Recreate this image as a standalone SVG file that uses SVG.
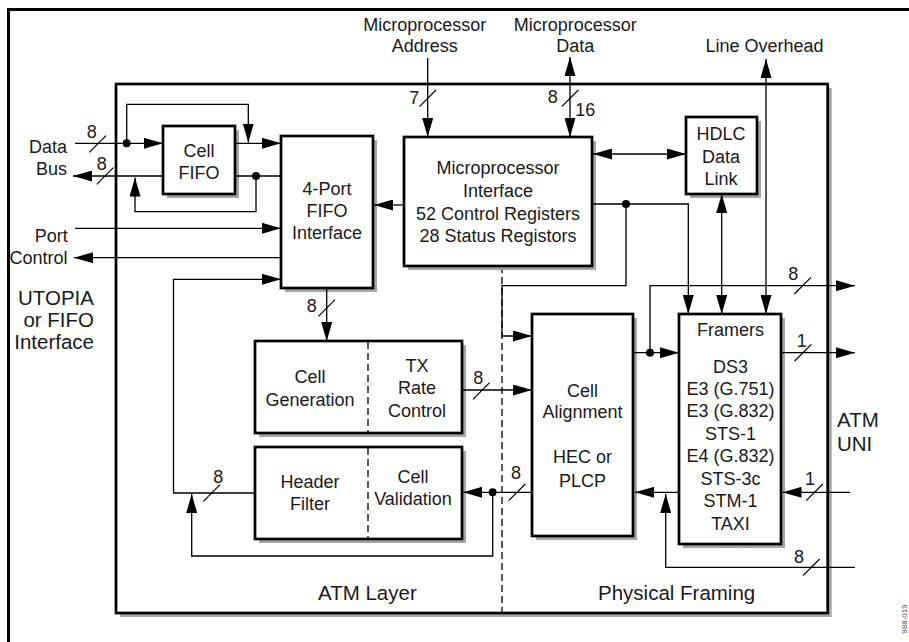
<svg xmlns="http://www.w3.org/2000/svg" width="909" height="642" viewBox="0 0 909 642">
<style>
.box{fill:#fff;stroke:#000;stroke-width:2.7}
.sh{fill:#a6a6a6}
.ln{fill:none;stroke:#000;stroke-width:1.3}
.ar{fill:none;stroke:#000;stroke-width:1.3;marker-end:url(#ah)}
.ar2{fill:none;stroke:#000;stroke-width:1.3;marker-end:url(#ah);marker-start:url(#ah)}
.dash{fill:none;stroke:#000;stroke-width:1.3;stroke-dasharray:7 4}
.sl{stroke:#000;stroke-width:1.2}
text{font-family:"Liberation Sans",Arial,sans-serif;font-size:18px;fill:#1a1a1a}
.c{text-anchor:middle}
.e{text-anchor:end}
.big{font-size:20.5px}
</style>
<defs>
<marker id="ah" markerUnits="userSpaceOnUse" markerWidth="19" markerHeight="11" viewBox="0 0 19 11" refX="19" refY="5.5" orient="auto-start-reverse"><path d="M0,0 L19,5.5 L0,11 z" fill="#000"/></marker>
</defs>
<rect width="909" height="642" fill="#fff"/>
<path d="M7,9.5 H909 M8.5,9 V642" fill="none" stroke="#000" stroke-width="3"/>

<g id="main-box">
<rect class="sh" x="120" y="88" width="711.7" height="529"/>
<rect class="box" x="116" y="84" width="711.7" height="529"/>
<line class="dash" x1="502" y1="266" x2="502" y2="613"/>
</g>

<g id="cell-fifo">
<rect class="sh" x="167" y="130" width="72" height="68"/>
<rect class="box" x="163" y="126" width="72" height="68"/>
<text class="c" x="199" y="156.5">Cell</text>
<text class="c" x="199" y="178.5">FIFO</text>
</g>

<g id="fifo-interface">
<rect class="sh" x="285" y="140" width="92" height="152"/>
<rect class="box" x="281" y="136" width="92" height="152"/>
<text class="c" x="327" y="194.5">4-Port</text>
<text class="c" x="327" y="216.5">FIFO</text>
<text class="c" x="327" y="238.5">Interface</text>
</g>

<g id="micro-interface">
<rect class="sh" x="408" y="141" width="188" height="129"/>
<rect class="box" x="404" y="137" width="188" height="129"/>
<text class="c" x="498" y="173.5">Microprocessor</text>
<text class="c" x="498" y="196.5">Interface</text>
<text class="c" x="498" y="219.5">52 Control Registers</text>
<text class="c" x="498" y="241.5">28 Status Registors</text>
</g>

<g id="hdlc">
<rect class="sh" x="690" y="121" width="71" height="77"/>
<rect class="box" x="686" y="117" width="71" height="77"/>
<text class="c" x="721" y="139.5">HDLC</text>
<text class="c" x="721" y="162.5">Data</text>
<text class="c" x="721" y="184.5">Link</text>
</g>

<g id="framers">
<rect class="sh" x="683" y="318" width="102" height="230"/>
<rect class="box" x="679" y="314" width="102" height="230"/>
<text class="c" x="730.5" y="335.8">Framers</text>
<text class="c" x="730.5" y="372.5">DS3</text>
<text class="c" x="730.5" y="394.8">E3 (G.751)</text>
<text class="c" x="730.5" y="417.2">E3 (G.832)</text>
<text class="c" x="730.5" y="439.8">STS-1</text>
<text class="c" x="730.5" y="462.2">E4 (G.832)</text>
<text class="c" x="730.5" y="484.8">STS-3c</text>
<text class="c" x="730.5" y="507.2">STM-1</text>
<text class="c" x="730.5" y="529.8">TAXI</text>
</g>

<g id="cell-alignment">
<rect class="sh" x="536" y="318" width="101" height="222"/>
<rect class="box" x="532" y="314" width="101" height="222"/>
<text class="c" x="582.5" y="396.5">Cell</text>
<text class="c" x="582.5" y="418.2">Alignment</text>
<text class="c" x="582.5" y="463.2">HEC or</text>
<text class="c" x="582.5" y="486.5">PLCP</text>
</g>

<g id="cell-generation">
<rect class="sh" x="259" y="345" width="207" height="92"/>
<rect class="box" x="255" y="341" width="207" height="92"/>
<line class="dash" x1="368" y1="342" x2="368" y2="432"/>
<text class="c" x="310" y="383.2">Cell</text>
<text class="c" x="310" y="405.5">Generation</text>
<text class="c" x="417" y="371.5">TX</text>
<text class="c" x="417" y="393.5">Rate</text>
<text class="c" x="417" y="416.5">Control</text>
</g>

<g id="header-filter">
<rect class="sh" x="259" y="451" width="207" height="92"/>
<rect class="box" x="255" y="447" width="207" height="92"/>
<line class="dash" x1="368" y1="448" x2="368" y2="538"/>
<text class="c" x="310" y="488.2">Header</text>
<text class="c" x="310" y="509.5">Filter</text>
<text class="c" x="413" y="482.5">Cell</text>
<text class="c" x="413" y="504.8">Validation</text>
</g>

<g id="connectors">
<path class="ar" d="M75,143.3 H163"/>
<path class="ar" d="M126.7,143.3 V104.3 H248.3 V142.5"/>
<path class="ar" d="M235,143.3 H281"/>
<path class="ln" d="M281,176 H235"/>
<path class="ar" d="M163,176 H73"/>
<path class="ar" d="M256,176 V211.7 H135 V177.5"/>
<path class="ar" d="M75,228.3 H281"/>
<path class="ar" d="M281,257.7 H74"/>
<path class="ar" d="M255,493 H173.5 V279.3 H281"/>
<path class="ar" d="M404,205 H374"/>
<path class="ar" d="M326.7,288 V341"/>
<path class="ar" d="M427.7,58 V137"/>
<path class="ar2" d="M570,57 V137"/>
<path class="ar2" d="M766,59 V314"/>
<path class="ar2" d="M593,154 H686"/>
<path class="ar2" d="M721.7,194 V314"/>
<path class="ar" d="M592,204 H688.3 V314"/>
<path class="ar" d="M626,204 V285.7 H502 V336 H532"/>
<path class="ar" d="M462,390 H532"/>
<path class="ar" d="M532,492.3 H463"/>
<path class="ar" d="M492.7,492.3 V556 H191.7 V494"/>
<path class="ar" d="M633,352.7 H679"/>
<path class="ar" d="M650,352.7 V285.7 H855"/>
<path class="ar" d="M781,352.7 H855"/>
<path class="ar" d="M850,492.3 H782.5"/>
<path class="ar" d="M679,492.3 H635"/>
<path class="ar" d="M855,567.3 H665.7 V494"/>
<g fill="#000">
<circle cx="126.7" cy="143.3" r="4"/>
<circle cx="256" cy="176" r="4"/>
<circle cx="626" cy="204" r="4"/>
<circle cx="492.7" cy="492.3" r="4"/>
<circle cx="650" cy="352.7" r="4"/>
</g>
<g class="sl">
<line x1="89.4" y1="152.3" x2="106" y2="135.7"/>
<line x1="96.7" y1="184.3" x2="113.3" y2="167.7"/>
<line x1="419.4" y1="106.6" x2="436" y2="90"/>
<line x1="561.7" y1="106.6" x2="578.3" y2="90"/>
<line x1="318.4" y1="316.3" x2="335" y2="299.7"/>
<line x1="473" y1="399.3" x2="489.6" y2="382.7"/>
<line x1="508.7" y1="500.6" x2="525.3" y2="484"/>
<line x1="203.4" y1="501.3" x2="220" y2="484.7"/>
<line x1="794.4" y1="294" x2="811" y2="277.4"/>
<line x1="794.7" y1="361" x2="811.3" y2="344.4"/>
<line x1="806.2" y1="500.6" x2="822.8" y2="484"/>
<line x1="803" y1="575.6" x2="819.6" y2="559"/>
</g>
<text class="c" x="91.7" y="138">8</text>
<text class="c" x="101.7" y="169.8">8</text>
<text class="c" x="414.3" y="103.8">7</text>
<text class="c" x="552.7" y="103.2">8</text>
<text x="575.3" y="115.5">16</text>
<text class="c" x="311.7" y="311.5">8</text>
<text class="c" x="478.3" y="384.2">8</text>
<text class="c" x="516" y="479.2">8</text>
<text class="c" x="218.3" y="483.2">8</text>
<text class="c" x="793.3" y="279.8">8</text>
<text class="c" x="801.7" y="346.5">1</text>
<text class="c" x="810" y="484.8">1</text>
<text class="c" x="799" y="563.2">8</text>
</g>

<g id="labels">
<text class="e" x="67" y="152.5">Data</text>
<text class="e" x="67" y="174.8">Bus</text>
<text class="e" x="67.7" y="241.5">Port</text>
<text class="e" x="67.5" y="264.2">Control</text>
<text class="e big" x="94" y="304.6">UTOPIA</text>
<text class="e big" x="94" y="326.6">or FIFO</text>
<text class="e big" x="94" y="349">Interface</text>
<text class="c" x="424.7" y="30.5">Microprocessor</text>
<text class="c" x="424.7" y="52.2">Address</text>
<text class="c" x="575.3" y="30.5">Microprocessor</text>
<text class="c" x="575.3" y="52.2">Data</text>
<text class="c" x="764.6" y="52.2">Line Overhead</text>
<text class="big" x="837" y="427.3">ATM</text>
<text class="big" x="837" y="450.6">UNI</text>
<text class="big" x="318" y="599.6">ATM Layer</text>
<text class="big" x="598" y="599.6">Physical Framing</text>
<text transform="translate(906.5,619) rotate(-90)" class="c" style="font-size:8px;fill:#555">988-019</text>
</g>
</svg>
